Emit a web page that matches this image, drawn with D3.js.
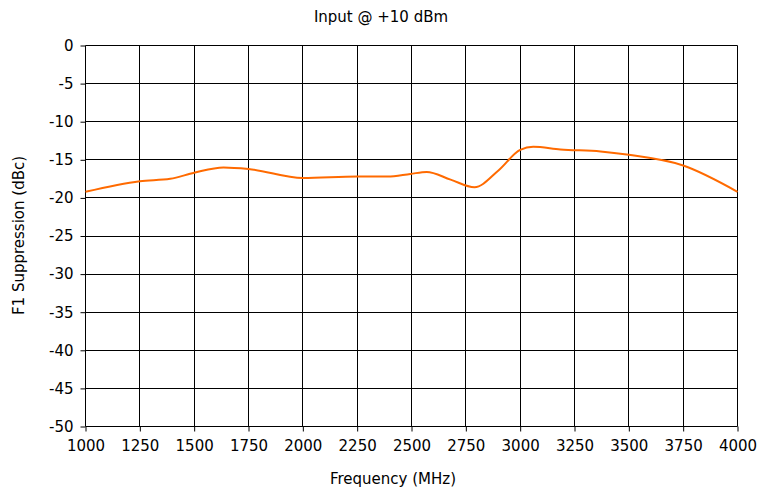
<!DOCTYPE html>
<html>
<head>
<meta charset="utf-8">
<script src="https://cdn.jsdelivr.net/npm/d3@7"></script>
<style>
  body { margin: 0; background: #fff; }
  svg text { font-family: "DejaVu Sans", Verdana, sans-serif; font-size: 15px; fill: #000; }
</style>
</head>
<body>
<svg class="chart" width="757" height="487"></svg>
<script>
// measured curve, F1 suppression vs frequency
var freqs = [1000, 1250, 1390, 1500, 1635, 1750, 2000, 2250, 2390, 2495, 2570, 2680, 2790, 2900, 3000, 3060, 3185, 3370, 3500, 3750, 4000];
var supp  = [-19.2, -17.8, -17.5, -16.7, -16.0, -16.2, -17.4, -17.2, -17.2, -16.85, -16.6, -17.6, -18.6, -16.4, -13.7, -13.3, -13.65, -13.9, -14.35, -15.75, -19.2];
var xTicks = [1000, 1250, 1500, 1750, 2000, 2250, 2500, 2750, 3000, 3250, 3500, 3750, 4000];
var yTicks = [0, -5, -10, -15, -20, -25, -30, -35, -40, -45, -50];

var svg = d3.select(".chart");
var margin = { top: 45, right: 20, bottom: 61, left: 85 };
var width = 757 - margin.left - margin.right;
var height = 487 - margin.top - margin.bottom;

var x = d3.scaleLinear().domain([1000, 4000]).range([0, width]);
var y = d3.scaleLinear().domain([-50, 0]).range([height, 0]);

var g = svg.append("g")
  .attr("transform", "translate(" + (margin.left + 0.5) + "," + (margin.top + 0.5) + ")");

// grid
g.selectAll(".vgrid").data(xTicks).enter().append("line")
  .attr("x1", function (d) { return Math.round(x(d)); })
  .attr("x2", function (d) { return Math.round(x(d)); })
  .attr("y1", 0).attr("y2", height)
  .attr("stroke", "#000").attr("stroke-width", 1);

g.selectAll(".hgrid").data(yTicks).enter().append("line")
  .attr("y1", function (d) { return Math.round(y(d)); })
  .attr("y2", function (d) { return Math.round(y(d)); })
  .attr("x1", 0).attr("x2", width)
  .attr("stroke", "#000").attr("stroke-width", 1);

// axes
var xAxis = d3.axisBottom(x).tickValues(xTicks).tickSize(5).tickFormat(d3.format("d"));
var yAxis = d3.axisLeft(y).tickValues(yTicks).tickSize(5).tickFormat(function (d) { return d; });

var gx = g.append("g")
  .attr("transform", "translate(0," + Math.round(height) + ")")
  .call(xAxis);
gx.select(".domain").remove();
gx.selectAll("line").attr("stroke", "#000");
gx.selectAll("text").attr("y", 10).attr("dy", "0.95em");

var gy = g.append("g").call(yAxis);
gy.select(".domain").remove();
gy.selectAll("line").attr("stroke", "#000");
gy.selectAll("text").attr("x", -12);

svg.selectAll(".tick text").style("font-size", "15px").style("font-family", "DejaVu Sans, Verdana, sans-serif");

// curve
var pts = freqs.map(function (f, i) { return [f, supp[i]]; });
var line = d3.line()
  .curve(d3.curveMonotoneX)
  .x(function (d) { return x(d[0]); })
  .y(function (d) { return y(d[1]); });

g.append("path")
  .datum(pts)
  .attr("fill", "none")
  .attr("stroke", "#ff6a00")
  .attr("stroke-width", 2)
  .attr("d", line);

// labels
svg.append("text")
  .attr("x", 381).attr("y", 22)
  .attr("text-anchor", "middle")
  .text("Input @ +10 dBm");

svg.append("text")
  .attr("x", 393).attr("y", 484)
  .attr("text-anchor", "middle")
  .text("Frequency (MHz)");

svg.append("text")
  .attr("transform", "translate(24," + (margin.top + height / 2) + ") rotate(-90)")
  .attr("text-anchor", "middle")
  .text("F1 Suppression (dBc)");
</script>
</body>
</html>
